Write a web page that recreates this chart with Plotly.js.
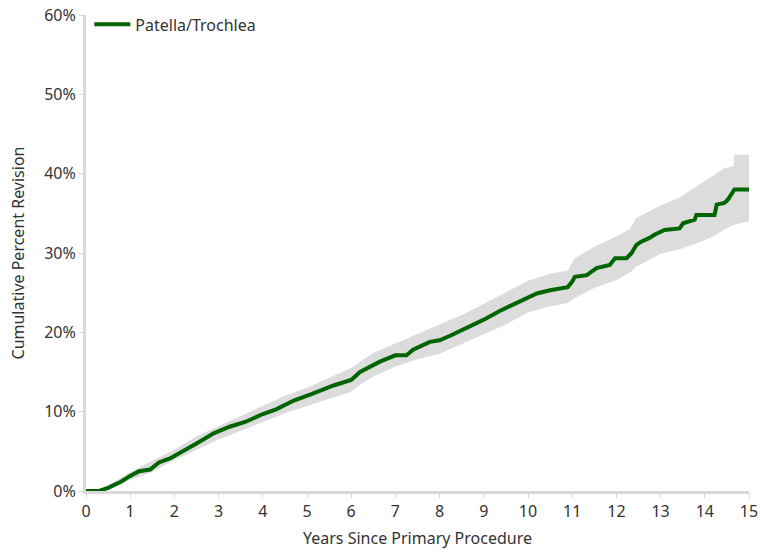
<!DOCTYPE html>
<html>
<head>
<meta charset="utf-8">
<script src="https://cdn.plot.ly/plotly-3.0.1.min.js"></script>
<style>html,body{margin:0;padding:0;background:#fff;}#chart{width:761px;height:558px;}</style>
</head>
<body>
<div id="chart"></div>
<script>
// Kaplan-Meier estimate (cumulative percent revision)
const years = [0,0.3,0.5,0.65,0.8,1.0,1.2,1.45,1.65,1.9,2.1,2.5,2.9,3.25,3.6,4.0,4.3,4.7,5.1,5.6,6.0,6.1,6.2,6.65,7.0,7.25,7.4,7.78,8.0,8.25,8.6,9.0,9.36,9.74,10.2,10.5,10.9,11.0,11.06,11.33,11.55,11.85,11.97,12.23,12.34,12.45,12.55,12.75,12.86,13.09,13.43,13.51,13.77,13.81,14.22,14.27,14.44,14.52,14.6,14.67,15.0];
const pct   = [0,0,0.4,0.8,1.2,1.9,2.5,2.7,3.6,4.1,4.7,6.0,7.3,8.1,8.7,9.7,10.3,11.4,12.2,13.3,14.0,14.5,15.0,16.3,17.1,17.1,17.8,18.8,19.0,19.6,20.5,21.6,22.7,23.7,24.9,25.3,25.7,26.4,27.0,27.2,28.1,28.5,29.35,29.35,29.97,31.0,31.4,31.9,32.3,32.9,33.1,33.75,34.2,34.8,34.8,36.1,36.3,36.7,37.3,38.0,38.0];

// 95% confidence interval
const bandYears = [0,0.3,0.5,1,1.5,2,2.5,3,3.5,4,4.5,5,5.5,6,6.2,6.5,7,7.5,8,8.5,9,9.5,10,10.5,10.9,11.05,11.5,12.0,12.3,12.45,13.0,13.4,13.8,14.2,14.45,14.65,14.67,15];
const upper = [0,0.1,0.7,2.4,3.8,5.2,6.9,8.2,9.4,10.7,12.0,13.0,14.2,15.5,16.3,17.4,18.6,19.8,20.9,22.2,23.6,25.1,26.5,27.4,27.8,29.3,30.8,32.1,33.0,34.4,36.0,36.9,38.4,39.8,40.7,40.9,42.4,42.4];
const lower = [0,0,0.2,1.4,2.4,3.9,5.2,6.5,7.6,8.7,9.8,10.7,11.6,12.5,13.4,14.4,15.7,16.6,17.3,18.5,19.8,21.0,22.5,23.3,23.7,24.3,25.6,26.6,27.5,28.3,29.9,30.4,31.2,32.1,33.0,33.5,33.6,34.0];

const seriesName = 'Patella/Trochlea';
const xTicks = [0,1,2,3,4,5,6,7,8,9,10,11,12,13,14,15];
const yTicks = [0,10,20,30,40,50,60];
const yTickText = ['0%','10%','20%','30%','40%','50%','60%'];

const font = "'Noto Sans', 'Open Sans', sans-serif";
const traces = [
  {x: bandYears, y: lower, type: 'scatter', mode: 'lines', line: {width: 0, color: '#dcdcdc'}, showlegend: false, hoverinfo: 'skip'},
  {x: bandYears, y: upper, type: 'scatter', mode: 'lines', fill: 'tonexty', fillcolor: '#dcdcdc', line: {width: 0, color: '#dcdcdc'}, showlegend: false, hoverinfo: 'skip'},
  {x: years, y: pct, type: 'scatter', mode: 'lines', name: seriesName, line: {width: 4, color: '#006400'}}
];
const layout = {
  width: 761, height: 558,
  margin: {l: 86, r: 12, t: 15, b: 67, autoexpand: false},
  paper_bgcolor: '#fff', plot_bgcolor: '#fff',
  font: {family: font, size: 16, color: '#333'},
  showlegend: true,
  legend: {x: 0.005, y: 1.016, xanchor: 'left', yanchor: 'top', itemwidth: 36, bgcolor: 'rgba(0,0,0,0)', font: {size: 16, color: '#333'}},
  xaxis: {range: [0, 15], tickvals: xTicks, showgrid: false, zeroline: false, showline: true, linecolor: '#d9d9d9', linewidth: 3,
          ticks: 'outside', ticklen: 4, tickcolor: '#d9d9d9', tickfont: {size: 16},
          title: {text: 'Years Since Primary Procedure', font: {size: 16}, standoff: 12}},
  yaxis: {range: [0, 60], tickvals: yTicks, ticktext: yTickText, showgrid: false, zeroline: false, showline: true, linecolor: '#d9d9d9', linewidth: 3,
          ticks: 'outside', ticklen: 4, tickcolor: '#d9d9d9', tickfont: {size: 16},
          title: {text: 'Cumulative Percent Revision', font: {size: 16}, standoff: 16}}
};
Plotly.newPlot('chart', traces, layout, {displayModeBar: false, staticPlot: true});
</script>
</body>
</html>
